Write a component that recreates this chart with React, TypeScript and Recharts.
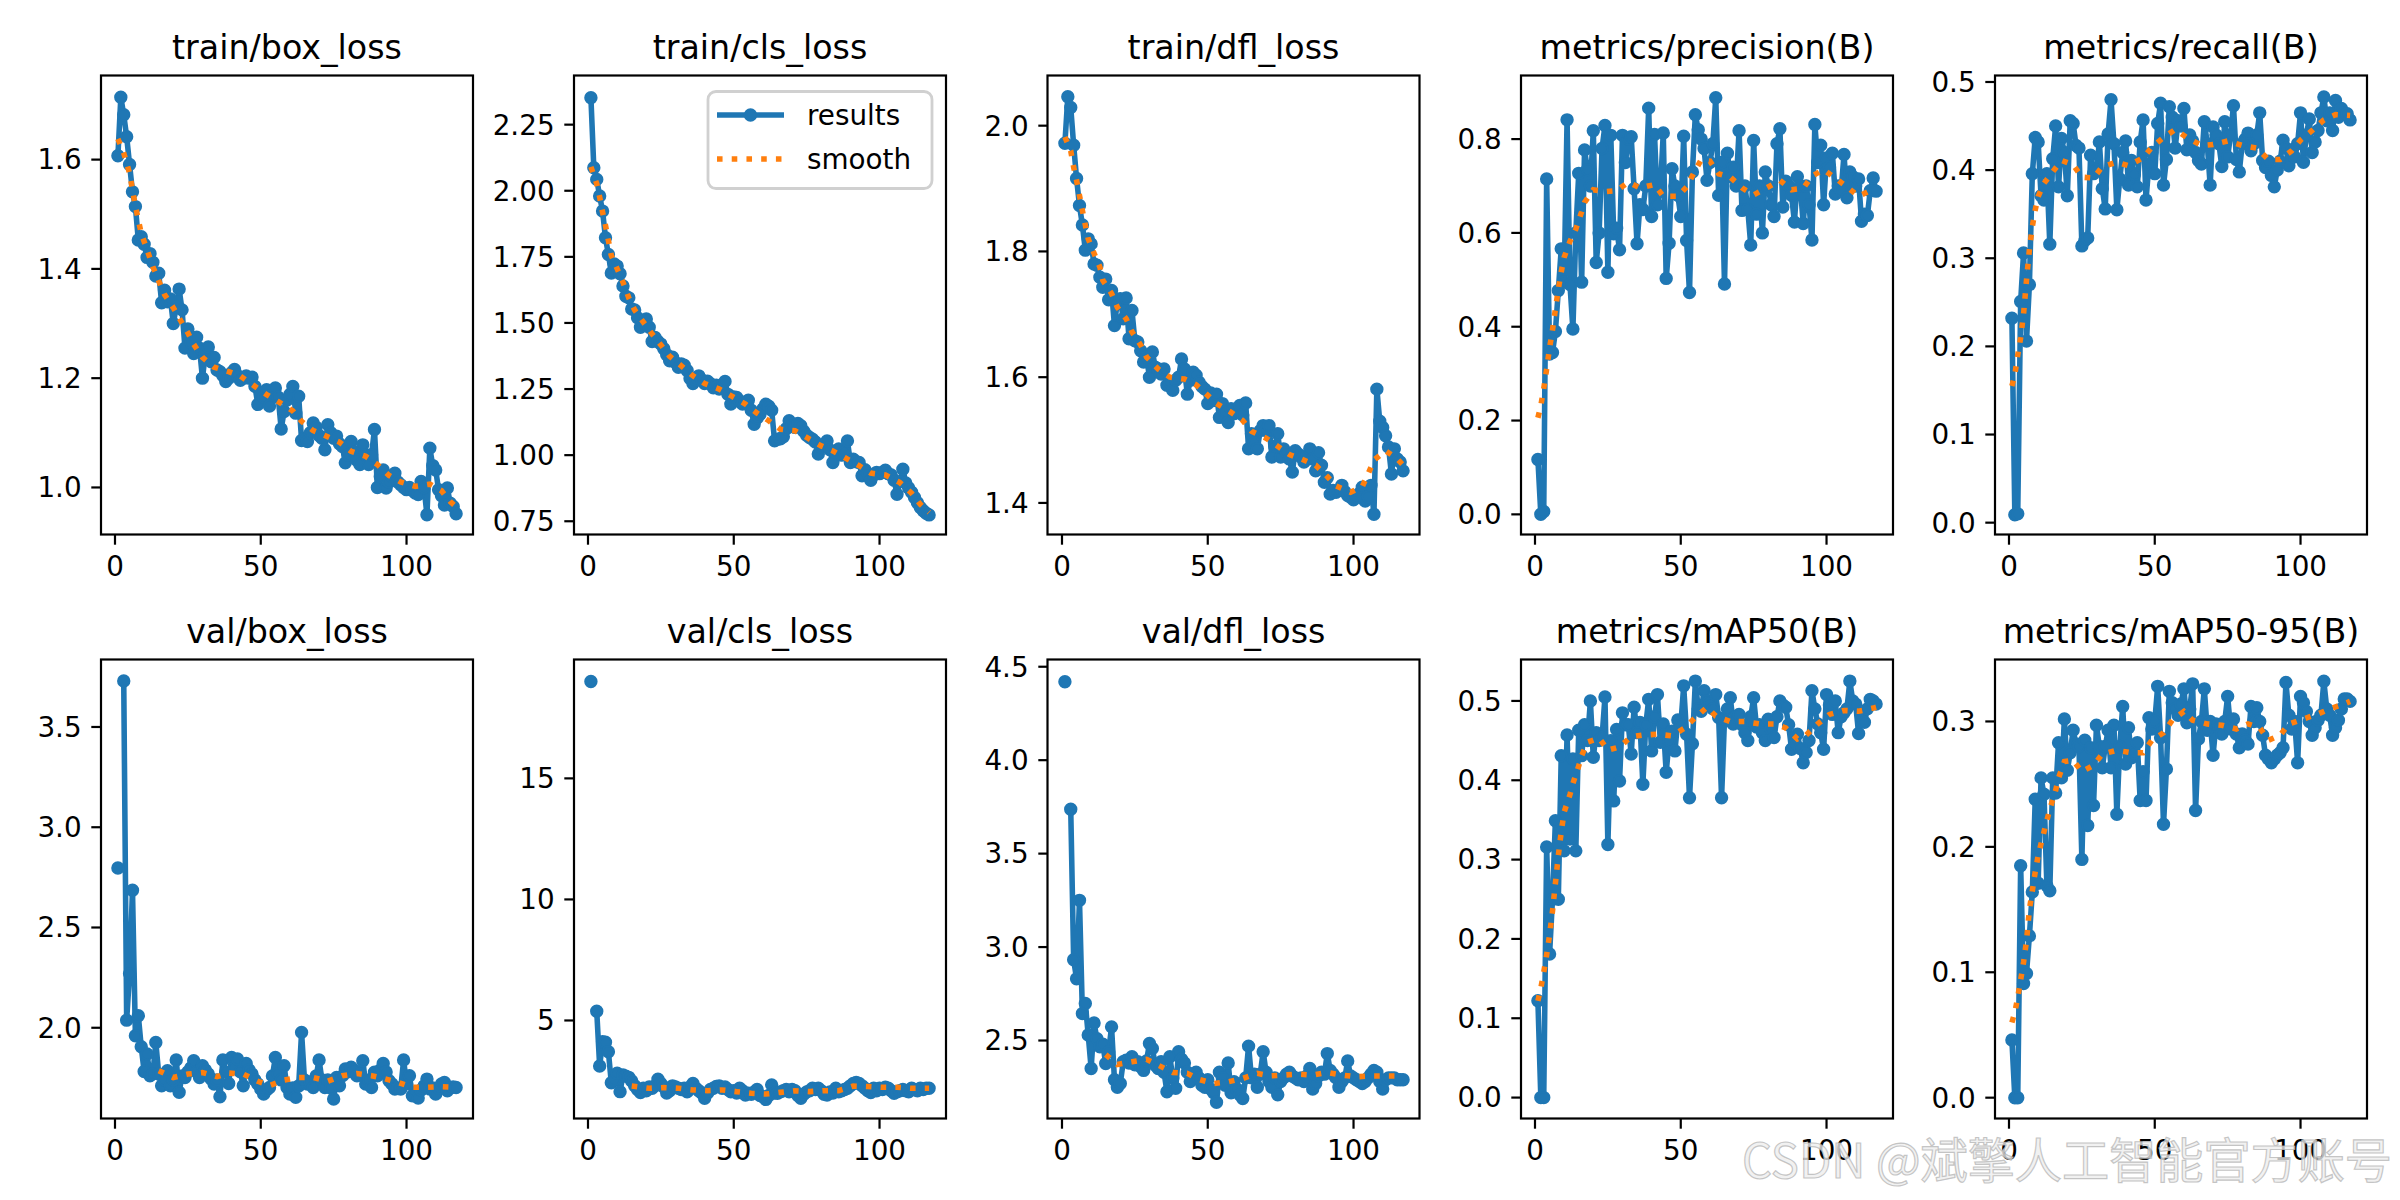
import React from 'react';
import { LineChart, Line, XAxis, YAxis } from 'recharts';

// ---------------- data ----------------
const epochs: number[] = Array.from({ length: 117 }, (_, i) => i + 1);

const titles = [
  'train/box_loss', 'train/cls_loss', 'train/dfl_loss', 'metrics/precision(B)', 'metrics/recall(B)',
  'val/box_loss', 'val/cls_loss', 'val/dfl_loss', 'metrics/mAP50(B)', 'metrics/mAP50-95(B)',
];

const trainBox = [
  1.607, 1.714, 1.682, 1.642, 1.591, 1.541, 1.514, 1.453, 1.459, 1.445,
  1.421, 1.428, 1.412, 1.387, 1.392, 1.338, 1.361, 1.340, 1.345, 1.300,
  1.330, 1.363, 1.325, 1.255, 1.290, 1.265, 1.245, 1.275, 1.255, 1.200,
  1.245, 1.257, 1.230, 1.238, 1.215, 1.212, 1.205, 1.194, 1.200, 1.210,
  1.216, 1.205, 1.196, 1.200, 1.204, 1.200, 1.202, 1.185, 1.152, 1.170,
  1.165, 1.179, 1.149, 1.170, 1.182, 1.165, 1.107, 1.139, 1.160, 1.170,
  1.185, 1.136, 1.167, 1.086, 1.090, 1.084, 1.100, 1.118, 1.110, 1.095,
  1.090, 1.069, 1.115, 1.100, 1.090, 1.094, 1.080, 1.075, 1.045, 1.060,
  1.084, 1.065, 1.050, 1.042, 1.078, 1.060, 1.042, 1.060, 1.106, 1.000,
  1.020, 1.032, 0.999, 1.010, 1.020, 1.026, 1.010, 1.005, 1.000, 0.996,
  1.000, 0.995, 0.990, 0.987, 1.011, 1.000, 0.950, 1.072, 1.040, 1.032,
  0.996, 0.985, 0.968, 0.999, 0.971, 0.965, 0.952,
];
const trainBoxSmoothEpochs = [1, 3, 5, 7, 9, 11, 13, 15, 17, 20, 22, 25, 27, 30, 34, 39, 43, 48, 52, 56, 61, 64, 68, 72, 77, 81, 86, 90, 94, 98, 103, 108, 112, 115, 117];
const trainBoxSmooth = [1.638, 1.612, 1.575, 1.515, 1.465, 1.435, 1.404, 1.378, 1.353, 1.329, 1.310, 1.283, 1.262, 1.238, 1.220, 1.212, 1.204, 1.185, 1.170, 1.157, 1.140, 1.121, 1.104, 1.095, 1.083, 1.066, 1.057, 1.042, 1.022, 1.010, 1.002, 1.006, 0.994, 0.974, 0.965];

const trainCls = [
  2.352, 2.087, 2.043, 1.980, 1.923, 1.822, 1.759, 1.689, 1.723, 1.715,
  1.686, 1.640, 1.601, 1.595, 1.553, 1.549, 1.520, 1.484, 1.500, 1.515,
  1.484, 1.430, 1.445, 1.430, 1.420, 1.402, 1.380, 1.357, 1.370, 1.350,
  1.332, 1.345, 1.340, 1.320, 1.290, 1.271, 1.285, 1.300, 1.285, 1.271,
  1.280, 1.270, 1.255, 1.265, 1.250, 1.255, 1.279, 1.230, 1.193, 1.220,
  1.218, 1.205, 1.193, 1.200, 1.208, 1.170, 1.117, 1.140, 1.155, 1.175,
  1.193, 1.185, 1.170, 1.054, 1.060, 1.062, 1.070, 1.100, 1.130, 1.110,
  1.105, 1.120, 1.111, 1.090, 1.075, 1.067, 1.060, 1.050, 1.004, 1.030,
  1.040, 1.054, 1.020, 0.972, 1.010, 1.023, 1.000, 1.010, 1.054, 0.972,
  0.985, 0.975, 0.972, 0.922, 0.945, 0.930, 0.905, 0.925, 0.935, 0.930,
  0.935, 0.943, 0.930, 0.925, 0.905, 0.852, 0.900, 0.947, 0.895, 0.876,
  0.860, 0.840, 0.820, 0.802, 0.790, 0.780, 0.774,
];
const trainClsSmoothEpochs = [1, 3, 4, 5, 6, 7, 8, 10, 12, 14, 16, 19, 22, 25, 28, 32, 36, 40, 45, 49, 54, 58, 62, 66, 71, 75, 80, 84, 88, 93, 97, 102, 107, 111, 114, 117];
const trainClsSmooth = [2.090, 2.026, 1.976, 1.919, 1.869, 1.812, 1.755, 1.705, 1.654, 1.595, 1.549, 1.503, 1.458, 1.417, 1.374, 1.338, 1.300, 1.271, 1.250, 1.225, 1.193, 1.159, 1.130, 1.098, 1.092, 1.067, 1.035, 1.016, 0.991, 0.960, 0.932, 0.925, 0.896, 0.856, 0.814, 0.783];

const trainDfl = [
  1.972, 2.046, 2.029, 1.969, 1.916, 1.873, 1.842, 1.802, 1.820, 1.812,
  1.780, 1.778, 1.759, 1.743, 1.756, 1.723, 1.738, 1.682, 1.722, 1.725,
  1.693, 1.726, 1.661, 1.706, 1.658, 1.656, 1.642, 1.624, 1.632, 1.600,
  1.640, 1.616, 1.613, 1.605, 1.613, 1.587, 1.592, 1.579, 1.595, 1.600,
  1.629, 1.613, 1.573, 1.595, 1.608, 1.603, 1.592, 1.585, 1.581, 1.558,
  1.575, 1.563, 1.573, 1.536, 1.558, 1.545, 1.528, 1.550, 1.542, 1.547,
  1.555, 1.540, 1.559, 1.486, 1.510, 1.495, 1.486, 1.515, 1.523, 1.515,
  1.523, 1.473, 1.490, 1.510, 1.473, 1.486, 1.480, 1.470, 1.449, 1.483,
  1.478, 1.473, 1.465, 1.475, 1.486, 1.470, 1.451, 1.480, 1.460, 1.433,
  1.440, 1.414, 1.420, 1.417, 1.420, 1.428, 1.418, 1.412, 1.409, 1.405,
  1.409, 1.415, 1.425, 1.403, 1.410, 1.428, 1.382, 1.581, 1.530, 1.520,
  1.507, 1.489, 1.446, 1.486, 1.470, 1.465, 1.451,
];
const trainDflSmoothEpochs = [1, 3, 4, 5, 6, 7, 8, 9, 11, 13, 14, 17, 19, 22, 24, 27, 29, 33, 37, 42, 46, 50, 53, 58, 62, 65, 70, 74, 78, 82, 87, 91, 94, 99, 103, 105, 107, 111, 115, 117];
const trainDflSmooth = [1.982, 1.960, 1.934, 1.913, 1.889, 1.865, 1.842, 1.820, 1.797, 1.775, 1.754, 1.733, 1.711, 1.693, 1.672, 1.651, 1.632, 1.613, 1.600, 1.597, 1.588, 1.571, 1.558, 1.544, 1.531, 1.514, 1.503, 1.490, 1.477, 1.470, 1.460, 1.442, 1.427, 1.417, 1.426, 1.446, 1.468, 1.483, 1.470, 1.460];

const precision = [
  0.117, 0.000, 0.006, 0.715, 0.342, 0.345, 0.390, 0.477, 0.566, 0.495,
  0.841, 0.490, 0.395, 0.600, 0.727, 0.495, 0.777, 0.735, 0.700, 0.818,
  0.537, 0.600, 0.780, 0.829, 0.516, 0.808, 0.598, 0.610, 0.564, 0.808,
  0.750, 0.800, 0.805, 0.694, 0.577, 0.660, 0.650, 0.700, 0.866, 0.635,
  0.810, 0.660, 0.690, 0.813, 0.503, 0.578, 0.737, 0.700, 0.680, 0.635,
  0.806, 0.584, 0.473, 0.730, 0.852, 0.820, 0.800, 0.780, 0.712, 0.750,
  0.790, 0.888, 0.680, 0.750, 0.491, 0.770, 0.720, 0.740, 0.700, 0.818,
  0.648, 0.700, 0.650, 0.574, 0.797, 0.640, 0.700, 0.600, 0.730, 0.700,
  0.660, 0.635, 0.790, 0.822, 0.655, 0.710, 0.700, 0.680, 0.623, 0.720,
  0.700, 0.620, 0.700, 0.660, 0.585, 0.831, 0.750, 0.787, 0.660, 0.760,
  0.740, 0.770, 0.683, 0.700, 0.690, 0.767, 0.675, 0.730, 0.720, 0.700,
  0.715, 0.625, 0.640, 0.637, 0.690, 0.717, 0.689,
];
const precisionSmoothEpochs = [1, 2, 3, 4, 5, 6, 7, 8, 9, 10, 12, 14, 16, 17, 20, 24, 28, 32, 36, 41, 44, 49, 52, 54, 57, 60, 63, 67, 71, 75, 80, 84, 88, 92, 95, 99, 103, 107, 111, 115, 117];
const precisionSmooth = [0.206, 0.232, 0.268, 0.310, 0.355, 0.393, 0.437, 0.480, 0.517, 0.548, 0.582, 0.608, 0.645, 0.665, 0.692, 0.688, 0.690, 0.708, 0.696, 0.703, 0.678, 0.678, 0.698, 0.722, 0.756, 0.753, 0.726, 0.719, 0.696, 0.681, 0.698, 0.712, 0.692, 0.695, 0.721, 0.735, 0.717, 0.698, 0.678, 0.690, 0.692];

const recall = [
  0.232, 0.009, 0.010, 0.251, 0.306, 0.206, 0.270, 0.396, 0.437, 0.432,
  0.371, 0.366, 0.396, 0.316, 0.413, 0.450, 0.381, 0.436, 0.420, 0.371,
  0.456, 0.453, 0.428, 0.425, 0.314, 0.320, 0.323, 0.417, 0.396, 0.400,
  0.432, 0.379, 0.356, 0.441, 0.480, 0.430, 0.355, 0.390, 0.420, 0.433,
  0.383, 0.411, 0.395, 0.381, 0.432, 0.457, 0.366, 0.407, 0.420, 0.396,
  0.453, 0.476, 0.383, 0.412, 0.472, 0.460, 0.425, 0.456, 0.450, 0.470,
  0.423, 0.440, 0.433, 0.420, 0.411, 0.407, 0.455, 0.430, 0.383, 0.449,
  0.440, 0.430, 0.404, 0.455, 0.415, 0.440, 0.473, 0.412, 0.398, 0.430,
  0.435, 0.442, 0.422, 0.430, 0.440, 0.465, 0.411, 0.403, 0.410, 0.394,
  0.381, 0.400, 0.410, 0.434, 0.425, 0.405, 0.422, 0.415, 0.430, 0.465,
  0.409, 0.440, 0.458, 0.420, 0.432, 0.445, 0.465, 0.483, 0.456, 0.465,
  0.445, 0.479, 0.460, 0.470, 0.465, 0.464, 0.457,
];
const recallSmoothEpochs = [1, 2, 3, 4, 5, 6, 7, 8, 9, 10, 12, 15, 18, 22, 25, 29, 32, 37, 41, 46, 49, 53, 57, 61, 66, 70, 75, 80, 85, 89, 93, 97, 100, 104, 108, 112, 117];
const recallSmooth = [0.155, 0.168, 0.190, 0.210, 0.237, 0.275, 0.310, 0.336, 0.355, 0.370, 0.385, 0.398, 0.411, 0.406, 0.392, 0.391, 0.404, 0.409, 0.405, 0.414, 0.426, 0.437, 0.446, 0.437, 0.428, 0.429, 0.433, 0.428, 0.425, 0.412, 0.412, 0.422, 0.434, 0.445, 0.457, 0.463, 0.462];

const valBox = [
  2.797, null, 3.729, 2.038, 2.270, 2.686, 1.960, 2.060, 1.905, 1.782,
  1.869, 1.761, 1.770, 1.927, 1.769, 1.711, 1.740, 1.786, 1.711, 1.740,
  1.839, 1.678, 1.760, 1.752, 1.780, 1.800, 1.836, 1.780, 1.752, 1.811,
  1.790, 1.770, 1.745, 1.719, 1.740, 1.656, 1.839, 1.780, 1.722, 1.852,
  1.800, 1.844, 1.780, 1.711, 1.822, 1.790, 1.769, 1.740, 1.720, 1.694,
  1.669, 1.690, 1.702, 1.760, 1.852, 1.770, 1.740, 1.811, 1.702, 1.669,
  1.700, 1.653, 1.710, 1.977, 1.740, 1.719, 1.730, 1.702, 1.760, 1.839,
  1.740, 1.702, 1.740, 1.700, 1.645, 1.752, 1.711, 1.760, 1.794, 1.780,
  1.803, 1.790, 1.760, 1.770, 1.836, 1.719, 1.740, 1.702, 1.778, 1.760,
  1.790, 1.822, 1.780, 1.736, 1.720, 1.694, 1.700, 1.694, 1.839, 1.720,
  1.761, 1.661, 1.680, 1.650, 1.690, 1.710, 1.744, 1.694, 1.700, 1.669,
  1.700, 1.720, 1.727, 1.686, 1.700, 1.705, 1.702,
];
const valBoxSmoothEpochs = [15, 20, 25, 30, 35, 39, 44, 49, 53, 58, 63, 68, 73, 78, 83, 88, 92, 97, 102, 107, 112, 117];
const valBoxSmooth = [1.786, 1.752, 1.769, 1.777, 1.756, 1.774, 1.769, 1.733, 1.711, 1.739, 1.752, 1.752, 1.733, 1.761, 1.772, 1.761, 1.748, 1.728, 1.703, 1.703, 1.706, 1.703];

const valCls = [
  19.0, null, 5.38, 3.12, 4.12, 4.10, 3.71, 2.43, 2.55, 2.82,
  2.06, 2.75, 2.70, 2.65, 2.50, 2.30, 2.15, 2.02, 2.20, 2.10,
  2.25, 2.20, 2.30, 2.57, 2.40, 2.25, 2.00, 2.10, 2.30, 2.25,
  2.20, 2.15, 2.20, 2.05, 2.25, 2.40, 2.20, 2.10, 2.00, 1.79,
  2.00, 2.15, 2.20, 2.27, 2.30, 2.20, 2.25, 2.15, 2.05, 2.10,
  2.00, 2.20, 2.10, 1.92, 2.00, 1.95, 2.05, 2.15, 1.90, 1.85,
  1.74, 1.90, 2.34, 2.00, 1.99, 2.05, 2.10, 2.15, 2.05, 2.15,
  2.10, 1.90, 1.79, 1.95, 2.05, 2.10, 2.20, 2.15, 2.20, 2.10,
  1.95, 1.92, 2.05, 2.00, 2.20, 2.05, 2.10, 2.15, 2.20, 2.30,
  2.40, 2.44, 2.40, 2.30, 2.20, 2.10, 2.02, 2.20, 2.10, 2.20,
  2.15, 2.24, 2.20, 2.10, 1.99, 2.05, 2.10, 2.15, 2.10, 2.05,
  2.20, 2.15, 2.10, 2.20, 2.15, 2.20, 2.20,
];
const valClsSmoothEpochs = [15, 21, 26, 31, 36, 41, 46, 51, 56, 61, 66, 71, 76, 81, 86, 91, 96, 101, 106, 111, 116, 117];
const valClsSmooth = [2.29, 2.20, 2.23, 2.20, 2.13, 2.10, 2.13, 2.06, 1.99, 1.96, 2.03, 2.10, 2.06, 2.10, 2.10, 2.29, 2.27, 2.24, 2.24, 2.20, 2.20, 2.20];

const valDfl = [
  4.420, null, 3.738, 2.932, 2.830, 3.250, 2.644, 2.698, 2.530, 2.350,
  2.594, 2.510, 2.466, 2.480, 2.377, 2.440, 2.573, 2.290, 2.250, 2.270,
  2.386, 2.395, 2.380, 2.413, 2.370, 2.386, 2.360, 2.340, 2.390, 2.484,
  2.457, 2.368, 2.350, 2.386, 2.330, 2.226, 2.413, 2.300, 2.244, 2.440,
  2.400, 2.380, 2.330, 2.280, 2.300, 2.330, 2.300, 2.260, 2.250, 2.290,
  2.240, 2.220, 2.170, 2.330, 2.300, 2.260, 2.380, 2.220, 2.280, 2.240,
  2.210, 2.190, 2.300, 2.470, 2.300, 2.320, 2.250, 2.320, 2.440, 2.330,
  2.280, 2.250, 2.300, 2.210, 2.280, 2.300, 2.320, 2.330, 2.310, 2.300,
  2.290, 2.300, 2.280, 2.310, 2.350, 2.240, 2.270, 2.310, 2.330, 2.320,
  2.430, 2.340, 2.320, 2.300, 2.250, 2.280, 2.300, 2.390, 2.310, 2.300,
  2.290, 2.280, 2.270, 2.280, 2.300, 2.320, 2.340, 2.330, 2.280, 2.240,
  2.290, 2.300, 2.300, 2.300, 2.290, 2.290, 2.290,
];
const valDflSmoothEpochs = [15, 19, 24, 29, 33, 38, 43, 47, 52, 57, 62, 67, 71, 76, 81, 86, 91, 96, 101, 106, 111, 116, 117];
const valDflSmooth = [2.425, 2.372, 2.386, 2.399, 2.368, 2.329, 2.324, 2.292, 2.270, 2.279, 2.297, 2.324, 2.311, 2.315, 2.320, 2.315, 2.329, 2.315, 2.306, 2.310, 2.310, 2.310, 2.310];

const map50 = [
  0.122, 0.000, 0.000, 0.316, 0.181, 0.250, 0.349, 0.250, 0.431, 0.311,
  0.457, 0.326, 0.427, 0.311, 0.463, 0.431, 0.470, 0.450, 0.500, 0.429,
  0.460, 0.450, 0.454, 0.505, 0.319, 0.450, 0.374, 0.464, 0.399, 0.485,
  0.470, 0.470, 0.433, 0.492, 0.460, 0.473, 0.395, 0.470, 0.502, 0.437,
  0.480, 0.508, 0.448, 0.471, 0.410, 0.450, 0.462, 0.437, 0.476, 0.469,
  0.519, 0.458, 0.378, 0.446, 0.525, 0.490, 0.487, 0.513, 0.500, 0.496,
  0.490, 0.508, 0.479, 0.378, 0.477, 0.490, 0.504, 0.471, 0.480, 0.483,
  0.470, 0.460, 0.450, 0.480, 0.504, 0.467, 0.470, 0.460, 0.450, 0.477,
  0.465, 0.454, 0.480, 0.500, 0.495, 0.492, 0.470, 0.439, 0.445, 0.458,
  0.440, 0.422, 0.435, 0.450, 0.513, 0.490, 0.471, 0.460, 0.439, 0.508,
  0.495, 0.483, 0.500, 0.460, 0.480, 0.485, 0.490, 0.525, 0.500, 0.496,
  0.459, 0.480, 0.473, 0.490, 0.502, 0.500, 0.496,
];
const map50SmoothEpochs = [1, 2, 3, 4, 5, 6, 7, 8, 9, 10, 12, 13, 15, 16, 18, 22, 25, 29, 33, 37, 42, 47, 51, 55, 59, 62, 67, 72, 77, 82, 86, 90, 93, 97, 101, 106, 111, 116, 117];
const map50Smooth = [0.122, 0.138, 0.158, 0.180, 0.205, 0.235, 0.270, 0.305, 0.335, 0.360, 0.382, 0.396, 0.418, 0.431, 0.448, 0.453, 0.438, 0.442, 0.455, 0.457, 0.458, 0.456, 0.465, 0.479, 0.492, 0.481, 0.474, 0.474, 0.471, 0.471, 0.466, 0.452, 0.457, 0.471, 0.483, 0.488, 0.487, 0.491, 0.492];

const map5095 = [
  0.046, 0.000, 0.000, 0.185, 0.091, 0.099, 0.129, 0.164, 0.238, 0.171,
  0.255, 0.242, 0.169, 0.165, 0.255, 0.243, 0.283, 0.255, 0.302, 0.261,
  0.275, 0.293, 0.282, 0.280, 0.190, 0.285, 0.217, 0.279, 0.233, 0.297,
  0.280, 0.263, 0.280, 0.293, 0.263, 0.297, 0.226, 0.280, 0.312, 0.266,
  0.295, 0.271, 0.275, 0.283, 0.237, 0.260, 0.237, 0.303, 0.294, 0.300,
  0.328, 0.287, 0.218, 0.262, 0.324, 0.315, 0.310, 0.305, 0.314, 0.326,
  0.299, 0.310, 0.330, 0.229, 0.286, 0.300, 0.326, 0.293, 0.300, 0.273,
  0.298, 0.295, 0.290, 0.300, 0.320, 0.294, 0.302, 0.290, 0.279, 0.290,
  0.285, 0.282, 0.312, 0.300, 0.311, 0.300, 0.289, 0.273, 0.270, 0.267,
  0.270, 0.273, 0.275, 0.279, 0.331, 0.305, 0.294, 0.300, 0.267, 0.320,
  0.315, 0.308, 0.300, 0.289, 0.295, 0.301, 0.305, 0.332, 0.310, 0.305,
  0.289, 0.295, 0.301, 0.310, 0.318, 0.318, 0.316,
];
const map5095SmoothEpochs = [1, 2, 3, 4, 5, 6, 7, 8, 9, 10, 12, 13, 14, 16, 17, 19, 22, 25, 29, 32, 37, 42, 46, 49, 53, 56, 60, 63, 68, 73, 78, 82, 86, 89, 93, 96, 101, 106, 110, 115, 117];
const map5095Smooth = [0.060, 0.068, 0.080, 0.094, 0.108, 0.125, 0.150, 0.165, 0.180, 0.193, 0.212, 0.221, 0.230, 0.245, 0.255, 0.268, 0.269, 0.260, 0.265, 0.274, 0.277, 0.275, 0.275, 0.285, 0.291, 0.301, 0.308, 0.301, 0.298, 0.297, 0.294, 0.298, 0.295, 0.285, 0.289, 0.298, 0.302, 0.306, 0.310, 0.314, 0.316];

const yTicks = [
  [1.0, 1.2, 1.4, 1.6],
  [0.75, 1.0, 1.25, 1.5, 1.75, 2.0, 2.25],
  [1.4, 1.6, 1.8, 2.0],
  [0, 0.2, 0.4, 0.6, 0.8],
  [0, 0.1, 0.2, 0.3, 0.4, 0.5],
  [2.0, 2.5, 3.0, 3.5],
  [5, 10, 15],
  [2.5, 3.0, 3.5, 4.0, 4.5],
  [0, 0.1, 0.2, 0.3, 0.4, 0.5],
  [0, 0.1, 0.2, 0.3],
];
const yDigits = [1, 2, 1, 1, 1, 1, 0, 1, 1, 1];
const yDomains: [number, number][] = [
  [0.913, 1.753], [0.698, 2.434], [1.349, 2.079], [-0.044, 0.9345], [-0.014, 0.5068],
  [1.545, 3.834], [0.93, 19.89], [2.08, 4.536], [-0.027, 0.5516], [-0.017, 0.349],
];
const xTicks = [0, 50, 100];
const xDomain: [number, number] = [-4.8, 122.8];

const resultsSeries = [trainBox, trainCls, trainDfl, precision, recall, valBox, valCls, valDfl, map50, map5095];
const smoothEpochSets = [trainBoxSmoothEpochs, trainClsSmoothEpochs, trainDflSmoothEpochs, precisionSmoothEpochs, recallSmoothEpochs, valBoxSmoothEpochs, valClsSmoothEpochs, valDflSmoothEpochs, map50SmoothEpochs, map5095SmoothEpochs];
const smoothSeries = [trainBoxSmooth, trainClsSmooth, trainDflSmooth, precisionSmooth, recallSmooth, valBoxSmooth, valClsSmooth, valDflSmooth, map50Smooth, map5095Smooth];

// ---------------- layout / style ----------------
const COL_LEFT = [101, 574, 1047.5, 1521, 1995];
const ROW_TOP = [75.5, 659.5];
const PLOT_W = 372;
const PLOT_H = 459;
const ML = 110;
const MT = 10;
const MR = 10;
const MB = 70;
const BLUE = '#1f77b4';
const ORANGE = '#ff7f0e';
const FONT = "'DejaVu Sans', 'Noto Sans', sans-serif";
const TICK_FS = 27.8;
const TITLE_FS = 33.3;
const LW = 5.56;

function buildResultRows(idx: number) {
  return epochs.map((e, i) => ({ e, r: resultsSeries[idx][i] }));
}
function buildSmoothRows(idx: number) {
  return smoothEpochSets[idx].map((e, i) => ({ e, s: smoothSeries[idx][i] }));
}

function Axes({ idx, show }: { idx: number; show: boolean }) {
  return null;
}

function PanelChart({ idx, layer }: { idx: number; layer: 'results' | 'smooth' }) {
  const digits = yDigits[idx];
  const show = layer === 'results';
  const rows = show ? buildResultRows(idx) : buildSmoothRows(idx);
  return (
    <LineChart
      width={PLOT_W + ML + MR}
      height={PLOT_H + MT + MB}
      data={rows}
      margin={{ top: MT, right: MR, bottom: 0, left: 0 }}
    >
      <XAxis
        dataKey="e"
        type="number"
        domain={xDomain}
        ticks={xTicks}
        allowDataOverflow
        height={MB}
        axisLine={false}
        tickLine={show ? { stroke: '#000', strokeWidth: 2.2 } : false}
        tickSize={9.7}
        tickMargin={12}
        tick={show ? { fill: '#000', fontSize: TICK_FS, fontFamily: FONT } : false}
        interval={0}
      />
      <YAxis
        type="number"
        domain={yDomains[idx]}
        ticks={yTicks[idx]}
        allowDataOverflow
        width={ML}
        axisLine={false}
        tickLine={show ? { stroke: '#000', strokeWidth: 2.2 } : false}
        tickSize={9.7}
        tickMargin={9.7}
        tick={show ? { fill: '#000', fontSize: TICK_FS, fontFamily: FONT } : false}
        tickFormatter={(v: number) => v.toFixed(digits)}
        interval={0}
      />
      {show ? (
        <Line
          dataKey="r"
          stroke={BLUE}
          strokeWidth={LW}
          strokeLinejoin="round"
          dot={{ r: 5.7, fill: BLUE, stroke: BLUE, strokeWidth: 2 }}
          activeDot={false}
          connectNulls={false}
          isAnimationActive={false}
        />
      ) : (
        <Line
          dataKey="s"
          stroke={ORANGE}
          strokeWidth={LW}
          strokeDasharray="5.56 9.17"
          strokeLinecap="butt"
          dot={false}
          activeDot={false}
          connectNulls
          isAnimationActive={false}
        />
      )}
    </LineChart>
  );
}

function Panel({ idx }: { idx: number }) {
  const col = idx % 5;
  const row = Math.floor(idx / 5);
  const pos = { position: 'absolute' as const, left: COL_LEFT[col] - ML, top: ROW_TOP[row] - MT };
  return (
    <>
      <div style={pos}>
        <PanelChart idx={idx} layer="results" />
      </div>
      <div style={pos}>
        <PanelChart idx={idx} layer="smooth" />
      </div>
    </>
  );
}

function Overlay() {
  const lgRight = COL_LEFT[1] + PLOT_W - 14;
  const lgTop = ROW_TOP[0] + 16;
  const lgW = 224;
  const lgH = 97;
  const lgX = lgRight - lgW;
  return (
    <svg
      width={2400}
      height={1200}
      style={{ position: 'absolute', left: 0, top: 0, pointerEvents: 'none' }}
    >
      {titles.map((t, i) => {
        const col = i % 5;
        const row = Math.floor(i / 5);
        return (
          <g key={t}>
            <rect
              x={COL_LEFT[col]}
              y={ROW_TOP[row]}
              width={PLOT_W}
              height={PLOT_H}
              fill="none"
              stroke="#000"
              strokeWidth={2.2}
            />
            <text
              x={COL_LEFT[col] + PLOT_W / 2}
              y={ROW_TOP[row] - 16.7}
              textAnchor="middle"
              fontSize={TITLE_FS}
              fontFamily={FONT}
              fill="#000"
            >
              {t}
            </text>
          </g>
        );
      })}
      <g>
        <rect x={lgX} y={lgTop} width={lgW} height={lgH} rx={8} ry={8} fill="#fff" fillOpacity={0.8} stroke="#d0d0d0" strokeWidth={2.8} />
        <line x1={lgX + 9} y1={lgTop + 23.5} x2={lgX + 76} y2={lgTop + 23.5} stroke={BLUE} strokeWidth={LW} />
        <circle cx={lgX + 42.5} cy={lgTop + 23.5} r={5.7} fill={BLUE} stroke={BLUE} strokeWidth={2} />
        <text x={lgX + 99} y={lgTop + 33.5} fontSize={TICK_FS} fontFamily={FONT} fill="#000">results</text>
        <line x1={lgX + 9} y1={lgTop + 67.5} x2={lgX + 76} y2={lgTop + 67.5} stroke={ORANGE} strokeWidth={LW} strokeDasharray="5.56 9.17" />
        <text x={lgX + 99} y={lgTop + 77.5} fontSize={TICK_FS} fontFamily={FONT} fill="#000">smooth</text>
      </g>
      <text
        x={1742}
        y={1178}
        fontSize={48}
        textLength={650}
        lengthAdjust="spacingAndGlyphs"
        fontFamily="'Noto Sans CJK SC', 'Noto Sans', sans-serif"
        fill="#eeeeee"
        fillOpacity={0.8}
        stroke="#b4b4b4"
        strokeWidth={1.2}
        strokeOpacity={0.75}
      >
        CSDN @斌擎人工智能官方账号
      </text>
    </svg>
  );
}

export default function App() {
  return (
    <div
      style={{
        position: 'absolute',
        left: 0,
        top: 0,
        width: 2400,
        height: 1200,
        background: '#fff',
        overflow: 'hidden',
      }}
    >
      {titles.map((t, i) => (
        <Panel key={t} idx={i} />
      ))}
      <Overlay />
    </div>
  );
}
